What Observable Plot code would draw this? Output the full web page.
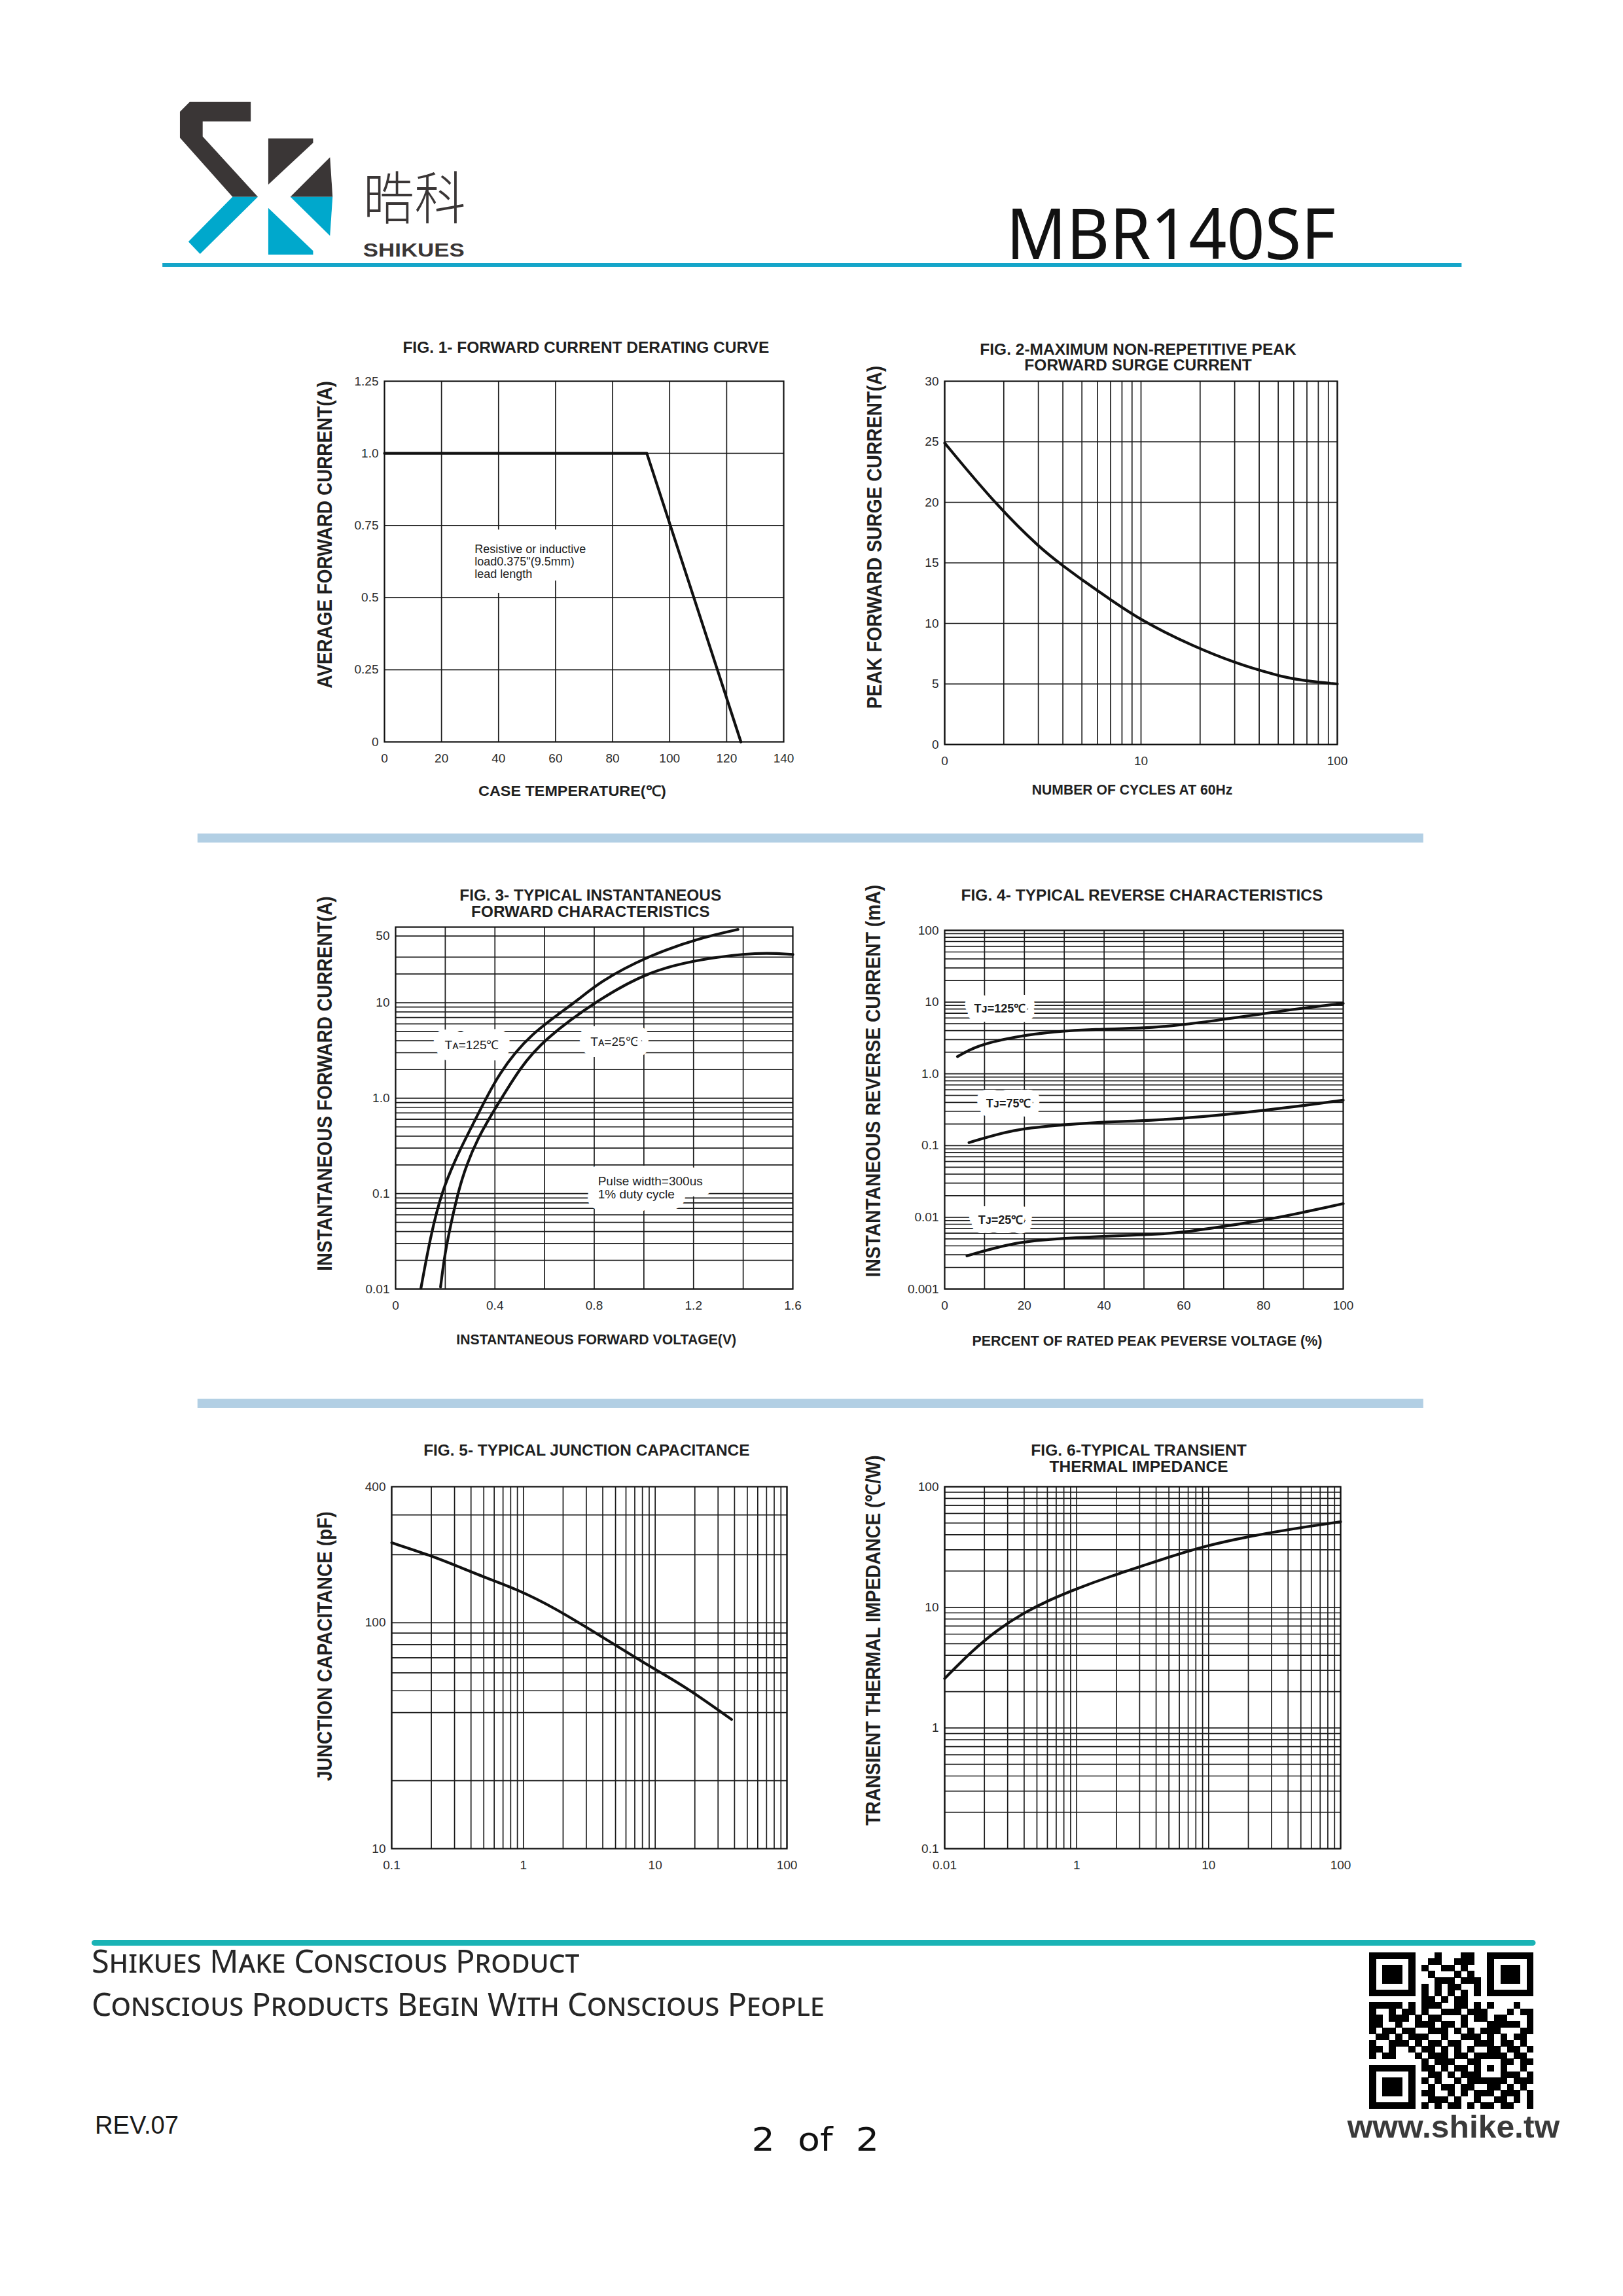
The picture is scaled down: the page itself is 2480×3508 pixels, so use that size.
<!DOCTYPE html>
<html><head><meta charset="utf-8">
<script src="https://cdn.jsdelivr.net/npm/d3@7"></script>
<script src="https://cdn.jsdelivr.net/npm/@observablehq/plot@0.6"></script>
<style>
html,body{margin:0;padding:0;background:#fff;}
#page{position:relative;width:2480px;height:3508px;background:#fff;overflow:hidden;}
.fig{position:absolute;}
#deco{position:absolute;left:0;top:0;}
</style></head>
<body><div id="page"><svg id="deco" width="2480" height="3508" xmlns="http://www.w3.org/2000/svg"></svg></div>
<script>
// ---------------- DATA ----------------
// Fig 1 forward current derating
const fig1Temp = [0, 92, 125];
const fig1Current = [1.0, 1.0, 0];
const fig1XTicks = [0, 20, 40, 60, 80, 100, 120, 140];
const fig1XLabels = ["0", "20", "40", "60", "80", "100", "120", "140"];
const fig1YTicks = [0, 0.25, 0.5, 0.75, 1.0, 1.25];
const fig1YLabels = ["0", "0.25", "0.5", "0.75", "1.0", "1.25"];
const fig1GridX = [20, 40, 60, 80, 100, 120];
const fig1GridY = [0.25, 0.5, 0.75, 1.0];
const fig1NoteX = [31.6];
const fig1NoteY = [0.625];
const fig1NoteText = ["Resistive or inductive\nload0.375\"(9.5mm)\nlead length"];

// Fig 2 surge current
const fig2Cycles = [1, 1.8, 3.11, 4.02, 5.1, 7.08, 10, 18.4, 31.9, 41.1, 51.9, 72.1, 100];
const fig2Amps = [24.9, 19.9, 16.1, 14.75, 13.5, 11.9, 10.25, 8.1, 6.6, 6.1, 5.6, 5.2, 5.0];
const fig2XTicks = [1, 10, 100];
const fig2XLabels = ["0", "10", "100"];
const fig2YTicks = [0, 5, 10, 15, 20, 25, 30];
const fig2YLabels = ["0", "5", "10", "15", "20", "25", "30"];
const fig2GridY = [5, 10, 15, 20, 25];

// Fig 3 forward characteristics
const fig3V125 = [0.102, 0.139, 0.185, 0.264, 0.33, 0.415, 0.541, 0.726, 0.818, 1.022, 1.227, 1.379];
const fig3I125 = [0.0102, 0.034, 0.107, 0.309, 0.66, 1.83, 4.73, 10.1, 16.5, 31.5, 47.8, 58.6];
const fig3V25 = [0.181, 0.198, 0.224, 0.264, 0.33, 0.415, 0.50, 0.594, 0.818, 1.022, 1.227, 1.464, 1.6];
const fig3I25 = [0.0105, 0.0234, 0.050, 0.144, 0.387, 0.89, 2.05, 4.06, 10.9, 21.5, 28.7, 34.0, 32.0];
const fig3XTicks = [0, 0.4, 0.8, 1.2, 1.6];
const fig3XLabels = ["0", "0.4", "0.8", "1.2", "1.6"];
const fig3YTicks = [0.01, 0.1, 1, 10, 50];
const fig3YLabels = ["0.01", "0.1", "1.0", "10", "50"];
const fig3GridX = [0.2, 0.4, 0.6, 0.8, 1.0, 1.2, 1.4];
const fig3GridYTop = [20, 30, 50];
const fig3NoteX = [0.198, 0.785, 0.815];
const fig3NoteY = [3.6, 3.9, 0.116];
const fig3NoteText = ["T\u1D00=125\u2103", "T\u1D00=25\u2103", "Pulse width=300us\n1% duty cycle"];

// Fig 4 reverse characteristics
const fig4Pct125 = [3.2, 8.2, 17.5, 27.6, 37.7, 49.5, 59, 70.5, 80, 90, 100];
const fig4I125 = [1.74, 2.5, 3.3, 3.9, 4.2, 4.3, 4.75, 5.8, 6.9, 8.3, 9.6];
const fig4Pct75 = [6.1, 17.5, 27.6, 37.7, 48, 59, 70.5, 80, 90, 100];
const fig4I75 = [0.11, 0.17, 0.19, 0.21, 0.22, 0.237, 0.27, 0.31, 0.36, 0.43];
const fig4Pct25 = [5.6, 17.5, 27.6, 37.7, 53.7, 59, 70.5, 80, 90, 100];
const fig4I25 = [0.0029, 0.0045, 0.005, 0.0054, 0.0058, 0.0061, 0.0075, 0.0091, 0.0117, 0.0155];
const fig4XTicks = [0, 20, 40, 60, 80, 100];
const fig4XLabels = ["0", "20", "40", "60", "80", "100"];
const fig4YTicks = [0.001, 0.01, 0.1, 1, 10, 100];
const fig4YLabels = ["0.001", "0.01", "0.1", "1.0", "10", "100"];
const fig4GridX = [10, 20, 30, 40, 50, 60, 70, 80, 90];
const fig4NoteX = [7.4, 10.4, 8.4];
const fig4NoteY = [8.26, 0.385, 0.0093];
const fig4NoteText = ["T\u1D0A=125\u2103", "T\u1D0A=75\u2103", "T\u1D0A=25\u2103"];

// Fig 5 junction capacitance
const fig5V = [0.1, 0.2, 0.33, 0.55, 0.88, 1.7, 3.9, 6.9, 9.8, 17, 38];
const fig5C = [226, 198, 176, 156, 141, 117, 87, 70.8, 62.5, 52, 37.3];
const fig5XTicks = [0.1, 1, 10, 100];
const fig5XLabels = ["0.1", "1", "10", "100"];
const fig5YTicks = [10, 100, 400];
const fig5YLabels = ["10", "100", "400"];
const fig5GridY = [20, 40, 50, 60, 70, 80, 90, 100, 200, 300];

// Fig 6 transient thermal impedance
const fig6T = [0.1, 0.158, 0.251, 0.398, 0.631, 1, 1.78, 3.16, 5.62, 10, 17.8, 31.6, 56.2, 100];
const fig6Z = [2.57, 4.27, 6.53, 9.02, 11.6, 14.3, 18.0, 22.1, 27.2, 32.7, 37.6, 42.2, 46.8, 51.2];
const fig6XTicks = [0.1, 1, 10, 100];
const fig6XLabels = ["0.01", "1", "10", "100"];
const fig6YTicks = [0.1, 1, 10, 100];
const fig6YLabels = ["0.1", "1", "10", "100"];

// ---------------- HELPERS ----------------
const S = 0.9926; // page scale
const page = document.getElementById("page");
const deco = d3.select("#deco").append("g").attr("transform", `scale(${S})`);
const FONT = "'Liberation Sans', Arial, Helvetica, sans-serif";

function logGrid(lo, hi) {
  const out = [];
  for (let e = Math.floor(Math.log10(lo)); e <= Math.ceil(Math.log10(hi)); e++) {
    for (let m = 1; m < 10; m++) {
      const v = +(m * Math.pow(10, e)).toPrecision(3);
      if (v >= lo * 0.999 && v <= hi * 1.001) out.push(v);
    }
  }
  return out;
}
function pts(xs, ys) { return xs.map((x, i) => ({x, y: ys[i]})); }
function fmt(ticks, labels) {
  return d => {
    const i = ticks.findIndex(t => Math.abs(t - d) <= 1e-9 * Math.max(1, Math.abs(t)));
    return i >= 0 ? labels[i] : "";
  };
}

const GRID = {stroke: "#1c1c1c", strokeWidth: 1.7};
const CURVE = {x: "x", y: "y", stroke: "#111", strokeWidth: 4.2, curve: "basis"};

function chart(cfg) {
  const m = {l: 100, r: 50, t: 40, b: 60};
  const f = {L: Math.round(cfg.frame.L * S), R: Math.round(cfg.frame.R * S), T: Math.round(cfg.frame.T * S), B: Math.round(cfg.frame.B * S)};
  const W = f.R - f.L + m.l + m.r;
  const H = f.B - f.T + m.t + m.b;
  const yLab = fmt(cfg.yTicks, cfg.yLabels);
  const svg = Plot.plot({
    width: W, height: H,
    marginLeft: m.l, marginRight: m.r, marginTop: m.t, marginBottom: m.b,
    style: {fontFamily: FONT, fontSize: "19px", color: "#2b2b2b", background: "transparent", overflow: "visible"},
    x: {type: cfg.xType || "linear", domain: cfg.xDomain},
    y: {type: cfg.yType || "linear", domain: cfg.yDomain, axis: null},
    marks: [
      Plot.ruleX(cfg.gridX, GRID),
      Plot.ruleY(cfg.gridY, GRID),
      ...(cfg.under || []),
      Plot.frame({stroke: "#111", strokeWidth: 2.2}),
      ...cfg.marks,
      Plot.axisX(cfg.xTicks, {tickFormat: fmt(cfg.xTicks, cfg.xLabels), tickSize: 0, tickPadding: 18, label: null}),
      // y tick labels, positioned by the y scale
      Plot.text(cfg.yTicks, {y: d => d, text: d => yLab(d), frameAnchor: "left", textAnchor: "end", dx: -9,
        fontSize: 19, fill: "#2b2b2b", fontFamily: FONT})
    ]
  });
  const div = document.createElement("div");
  div.className = "fig";
  div.style.left = (f.L - m.l) + "px";
  div.style.top = (f.T - m.t) + "px";
  div.appendChild(svg);
  page.appendChild(div);
}

function notes(xs, ys, texts, o) {
  const data = xs.map((x, i) => ({x, y: ys[i], t: texts[i]}));
  const base = {x: "x", y: "y", text: "t", textAnchor: "start", lineAnchor: "middle",
    fontSize: o.fontSize || 19, fontWeight: o.fontWeight || "normal", lineHeight: o.lineHeight || 1.1, fontFamily: FONT};
  return [
    Plot.text(data, {...base, fill: "white", stroke: "white", strokeWidth: o.halo || 30, strokeLinejoin: "round"}),
    Plot.text(data, {...base, fill: "#1e1e1e"})
  ];
}

// ---------------- CHARTS ----------------
chart({
  frame: {L: 591, R: 1206, T: 586, B: 1141},
  xDomain: [0, 140], yDomain: [0, 1.25],
  gridX: fig1GridX, gridY: fig1GridY,
  xTicks: fig1XTicks, xLabels: fig1XLabels, yTicks: fig1YTicks, yLabels: fig1YLabels,
  under: notes(fig1NoteX, fig1NoteY, fig1NoteText, {fontSize: 18, halo: 46, lineHeight: 1.07}),
  marks: [Plot.line(pts(fig1Temp, fig1Current), {...CURVE, curve: "linear"})]
});

chart({
  frame: {L: 1454, R: 2058, T: 586, B: 1145},
  xType: "log", xDomain: [1, 100], yDomain: [0, 30],
  gridX: logGrid(1, 100), gridY: fig2GridY,
  xTicks: fig2XTicks, xLabels: fig2XLabels, yTicks: fig2YTicks, yLabels: fig2YLabels,
  marks: [Plot.line(pts(fig2Cycles, fig2Amps), CURVE)]
});

chart({
  frame: {L: 609, R: 1220, T: 1427, B: 1984},
  xDomain: [0, 1.6], yType: "log", yDomain: [0.01, 62],
  gridX: fig3GridX, gridY: logGrid(0.01, 10).concat(fig3GridYTop),
  xTicks: fig3XTicks, xLabels: fig3XLabels, yTicks: fig3YTicks, yLabels: fig3YLabels,
  under: notes(fig3NoteX, fig3NoteY, fig3NoteText, {fontSize: 19, halo: 34, lineHeight: 1.05}),
  marks: [Plot.line(pts(fig3V125, fig3I125), CURVE), Plot.line(pts(fig3V25, fig3I25), CURVE)]
});

chart({
  frame: {L: 1454, R: 2067, T: 1432, B: 1984},
  xDomain: [0, 100], yType: "log", yDomain: [0.001, 100],
  gridX: fig4GridX, gridY: logGrid(0.001, 100),
  xTicks: fig4XTicks, xLabels: fig4XLabels, yTicks: fig4YTicks, yLabels: fig4YLabels,
  under: notes(fig4NoteX, fig4NoteY, fig4NoteText, {fontSize: 18, fontWeight: "bold", halo: 28}),
  marks: [Plot.line(pts(fig4Pct125, fig4I125), CURVE), Plot.line(pts(fig4Pct75, fig4I75), CURVE), Plot.line(pts(fig4Pct25, fig4I25), CURVE)]
});

chart({
  frame: {L: 602, R: 1211, T: 2288, B: 2845},
  xType: "log", xDomain: [0.1, 100], yType: "log", yDomain: [10, 400],
  gridX: logGrid(0.1, 100), gridY: fig5GridY,
  xTicks: fig5XTicks, xLabels: fig5XLabels, yTicks: fig5YTicks, yLabels: fig5YLabels,
  marks: [Plot.line(pts(fig5V, fig5C), CURVE)]
});

chart({
  frame: {L: 1454, R: 2063, T: 2288, B: 2845},
  xType: "log", xDomain: [0.1, 100], yType: "log", yDomain: [0.1, 100],
  gridX: logGrid(0.1, 100), gridY: logGrid(0.1, 100),
  xTicks: fig6XTicks, xLabels: fig6XLabels, yTicks: fig6YTicks, yLabels: fig6YLabels,
  marks: [Plot.line(pts(fig6T, fig6Z), CURVE)]
});

// ---------------- PAGE DECORATION & TEXT ----------------
function txt(x, y, s, o) {
  const t = deco.append("text").attr("x", x).attr("y", y).text(s)
    .attr("font-family", FONT).attr("fill", "#1f1f1f");
  for (const k in o) t.attr(k, o[k]);
  return t;
}
const B = {"font-weight": "bold", "text-anchor": "middle", "lengthAdjust": "spacingAndGlyphs"};

const figTitles = [
  [902, 543, "FIG. 1- FORWARD CURRENT DERATING CURVE", 564],
  [1752, 546, "FIG. 2-MAXIMUM NON-REPETITIVE PEAK", 487],
  [1752, 570, "FORWARD SURGE CURRENT", 350],
  [909, 1386, "FIG. 3- TYPICAL INSTANTANEOUS", 403],
  [909, 1411, "FORWARD CHARACTERISTICS", 367],
  [1758, 1386, "FIG. 4- TYPICAL REVERSE CHARACTERISTICS", 557],
  [903, 2241, "FIG. 5- TYPICAL JUNCTION CAPACITANCE", 502],
  [1753, 2241, "FIG. 6-TYPICAL TRANSIENT", 332],
  [1753, 2266, "THERMAL IMPEDANCE", 275]
];
figTitles.forEach(([x, y, s, L]) => txt(x, y, s, {...B, "font-size": 24, textLength: L}));

const xTitles = [
  [881, 1225, "CASE TEMPERATURE(\u2103)", 289],
  [1743, 1223, "NUMBER OF CYCLES AT 60Hz", 309],
  [918, 2069, "INSTANTANEOUS FORWARD VOLTAGE(V)", 431],
  [1766, 2071, "PERCENT OF RATED PEAK PEVERSE VOLTAGE (%)", 539]
];
xTitles.forEach(([x, y, s, L]) => txt(x, y, s, {...B, "font-size": 22, textLength: L}));

const yTitles = [
  [500, 823, "AVERAGE FORWARD CURRENT(A)", 473],
  [1346, 827, "PEAK FORWARD SURGE CURRENT(A)", 528],
  [500, 1668, "INSTANTANEOUS FORWARD CURRENT(A)", 577],
  [1344, 1664, "INSTANTANEOUS REVERSE CURRENT (mA)", 604],
  [500, 2534, "JUNCTION CAPACITANCE (pF)", 415],
  [1344, 2525, "TRANSIENT THERMAL IMPEDANCE (\u2103/W)", 570]
];
yTitles.forEach(([x, y, s, L]) => txt(x, y, s, {...B, "font-size": 31, textLength: L,
  "dominant-baseline": "central", transform: `rotate(-90 ${x} ${y})`}));

// separators
deco.append("rect").attr("x", 304).attr("y", 1283).attr("width", 1887).attr("height", 14).attr("fill", "#b2cfe4");
deco.append("rect").attr("x", 304).attr("y", 2153).attr("width", 1887).attr("height", 14).attr("fill", "#b2cfe4");

// header logo
const DARK = "#3a3636", TEAL = "#00a8cc";
const logoShapes = [
  [DARK, "292,157 386,157 386,187 312,187 312,210 397,303 358,303 277,212 277,172"],
  [TEAL, "358,303 397,303 308,391 290,372"],
  [DARK, "413,213 482,213 482,220 413,284"],
  [DARK, "508,242 512,303 447,303"],
  [TEAL, "413,320 482,386 482,392 413,392"],
  [TEAL, "447,303 512,303 508,363"]
];
logoShapes.forEach(([c, p]) => deco.append("polygon").attr("points", p).attr("fill", c));
txt(559, 337, "\u6667\u79D1", {"font-family": "'Noto Sans CJK TC','Noto Sans CJK SC',sans-serif", "font-size": 88,
  "font-weight": 300, fill: "#3a3636", textLength: 158, lengthAdjust: "spacingAndGlyphs"});
txt(559, 395, "SHIKUES", {"font-weight": "bold", "font-size": 30, fill: "#3a3636", textLength: 156, lengthAdjust: "spacingAndGlyphs"});
txt(1549, 399, "MBR140SF", {"font-family": "'Noto Sans','Open Sans',sans-serif", "font-size": 108, fill: "#111",
  textLength: 507, lengthAdjust: "spacingAndGlyphs"});
deco.append("rect").attr("x", 250).attr("y", 405).attr("width", 2000).attr("height", 6).attr("fill", "#14a5c9");

// footer
deco.append("rect").attr("x", 141).attr("y", 2986).attr("width", 2223).attr("height", 9).attr("rx", 4.5).attr("fill", "#1ab3b5");
txt(141, 3036, "Shikues Make Conscious Product", {"font-family": "'Noto Sans','Open Sans',sans-serif", "font-size": 50,
  "font-variant": "small-caps", fill: "#262626", textLength: 751, lengthAdjust: "spacingAndGlyphs"});
txt(141, 3103, "Conscious Products Begin With Conscious People", {"font-family": "'Noto Sans','Open Sans',sans-serif", "font-size": 50,
  "font-variant": "small-caps", fill: "#262626", textLength: 1128, lengthAdjust: "spacingAndGlyphs"});
txt(146, 3284, "REV.07", {"font-size": 40, fill: "#1a1a1a", textLength: 129, lengthAdjust: "spacingAndGlyphs"});
txt(1157, 3311, "2  of  2", {"font-family": "'DejaVu Sans','Liberation Sans',sans-serif", "font-size": 50, fill: "#111",
  textLength: 196, lengthAdjust: "spacingAndGlyphs", style: "white-space:pre"});
txt(2074, 3290, "www.shike.tw", {"font-weight": "bold", "font-size": 48, fill: "#3a3a3a", textLength: 327, lengthAdjust: "spacingAndGlyphs"});

// QR code (decorative)
const qrRows = [
  "1111111" + "0" + "001000110" + "0" + "1111111",
  "1000001" + "0" + "011001110" + "0" + "1000001",
  "1011101" + "0" + "100110100" + "0" + "1011101",
  "1011101" + "0" + "010001010" + "0" + "1011101",
  "1011101" + "0" + "001110111" + "0" + "1011101",
  "1000001" + "0" + "101011001" + "0" + "1000001",
  "1111111" + "0" + "101010101" + "0" + "1111111",
  "00000000" + "110101100" + "00000000",
  "1111101011100110101000100",
  "1001011010011101110001011",
  "1101110101100010110110001",
  "1100100111011010001111101",
  "1011011001110101011100011",
  "0110101110010011101010110",
  "1001110101101100111011010",
  "1101001011010101001101101",
  "1011000101110110" + "11111" + "0110",
  "00000000" + "10111001" + "10001" + "1011",
  "1111111" + "0" + "11010110" + "10101" + "0010",
  "1000001" + "0" + "01101011" + "10001" + "1101",
  "1011101" + "0" + "10100101" + "11111" + "0111",
  "1011101" + "0" + "01011011" + "00110" + "1010",
  "1011101" + "0" + "11001010" + "11101" + "1101",
  "1000001" + "0" + "01110100" + "10011" + "0101",
  "1111111" + "0" + "10101101" + "01101" + "1001"
];
const qrX = 2108, qrY = 3005, qrW = 252, qrH = 241;
const mw = qrW / 25, mh = qrH / 25;
const qg = deco.append("g").attr("fill", "#000").attr("shape-rendering", "crispEdges");
qrRows.forEach((row, r) => {
  for (let c = 0; c < row.length; c++) if (row[c] === "1")
    qg.append("rect").attr("x", qrX + c * mw).attr("y", qrY + r * mh).attr("width", mw + 0.5).attr("height", mh + 0.5);
});
</script>
</body></html>
